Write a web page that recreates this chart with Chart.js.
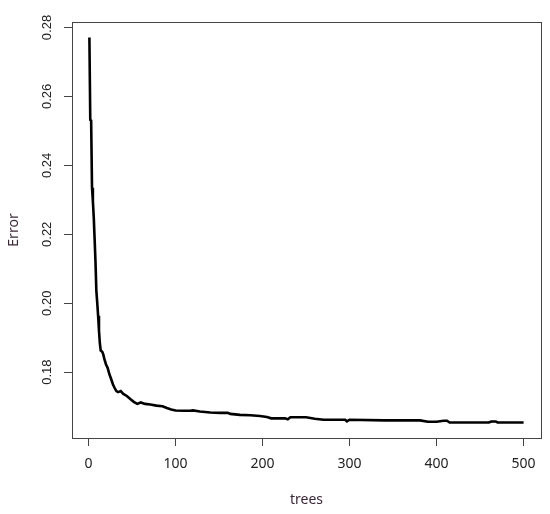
<!DOCTYPE html>
<html>
<head>
<meta charset="utf-8">
<script src="https://cdn.jsdelivr.net/npm/chart.js@4"></script>
<style>
  html, body { margin: 0; padding: 0; background: #ffffff; }
  #wrap { width: 550px; height: 514px; }
</style>
</head>
<body>
<div id="wrap"><canvas id="error-chart"></canvas></div>
<script>
// number of trees and OOB error
const trees = [1, 2, 3, 4, 5, 6, 7, 8, 9, 10, 11, 12, 13, 14, 15, 16, 17, 18, 20, 22, 24, 26, 28, 30, 32, 34,
    37, 40, 44, 48, 52, 56, 60, 65, 71, 78, 85, 90, 95, 100, 110, 117, 120, 128, 140, 151, 160, 163,
    174, 186, 197, 205, 210, 226, 229, 232, 250, 260, 270, 295, 297, 300, 340, 381, 390, 400, 408,
    412, 415, 460, 463, 468, 470, 500];
const errors = [0.2771, 0.2532, 0.2530, 0.2335, 0.2296, 0.2250, 0.2186, 0.2120, 0.2036, 0.2002, 0.1964,
    0.1921, 0.1884, 0.1863, 0.1861, 0.1858, 0.1851, 0.1840, 0.1823, 0.1812, 0.1794, 0.1780, 0.1765,
    0.1754, 0.1745, 0.1742, 0.1745, 0.1737, 0.1731, 0.1722, 0.1714, 0.1708, 0.1712, 0.1708, 0.1706,
    0.1703, 0.1701, 0.1696, 0.1692, 0.1689, 0.1688, 0.1688, 0.1689, 0.1686, 0.1683, 0.1682, 0.1682,
    0.1679, 0.1676, 0.1675, 0.1673, 0.1670, 0.1666, 0.1666, 0.1663, 0.1669, 0.1669, 0.1665, 0.1662,
    0.1662, 0.1657, 0.1662, 0.1660, 0.1660, 0.1656, 0.1656, 0.1659, 0.1659, 0.1654, 0.1654, 0.1657,
    0.1657, 0.1654, 0.1654];
const xTicks = [0, 100, 200, 300, 400, 500];
const yTicks = [0.18, 0.20, 0.22, 0.24, 0.26, 0.28];

const axisColor = '#444444';
const labelColor = '#222222';
const titleColor = '#3a2838';

// R-style box round the plotting region
const boxPlugin = {
    id: 'box',
    afterDraw(chart) {
        const a = chart.chartArea;
        const ctx = chart.ctx;
        ctx.save();
        ctx.strokeStyle = axisColor;
        ctx.lineWidth = 1;
        ctx.strokeRect(Math.round(a.left) + 0.5, Math.round(a.top) + 0.5,
            Math.round(a.right - a.left), Math.round(a.bottom - a.top));
        ctx.restore();
    }
};

const ctx = document.getElementById('error-chart').getContext('2d');
new Chart(ctx, {
    type: 'scatter',
    data: {
        datasets: [{
            data: trees.map((t, i) => ({ x: t, y: errors[i] })),
            showLine: true,
            borderColor: '#000000',
            borderWidth: 2.6,
            pointRadius: 0,
            tension: 0
        }]
    },
    options: {
        responsive: true,
        maintainAspectRatio: false,
        animation: false,
        layout: { padding: { top: 22, right: 9, left: 0, bottom: 0 } },
        plugins: {
            legend: { display: false },
            tooltip: { enabled: false }
        },
        scales: {
            x: {
                type: 'linear',
                min: -19,
                max: 520,
                afterBuildTicks: function(scale) {
                    scale.ticks = xTicks.map(v => ({ value: v }));
                },
                afterFit: function(scale) {
                    scale.height = 76;
                },
                border: { display: false },
                grid: {
                    drawOnChartArea: false,
                    drawTicks: true,
                    tickLength: 8,
                    color: axisColor
                },
                ticks: {
                    padding: 10,
                    color: labelColor,
                    maxRotation: 0,
                    font: { family: 'Noto Sans', size: 14 },
                    callback: function(value) { return String(value); }
                },
                title: {
                    display: true,
                    text: 'trees',
                    color: titleColor,
                    padding: { top: 6, bottom: 6 },
                    font: { family: 'Noto Sans', size: 14 }
                }
            },
            y: {
                type: 'linear',
                min: 0.1609,
                max: 0.2816,
                afterBuildTicks: function(scale) {
                    scale.ticks = yTicks.map(v => ({ value: v }));
                },
                afterFit: function(scale) {
                    scale.width = 72;
                },
                border: { display: false },
                grid: {
                    drawOnChartArea: false,
                    drawTicks: true,
                    tickLength: 8,
                    color: axisColor
                },
                ticks: {
                    padding: 4,
                    color: labelColor,
                    minRotation: 90,
                    maxRotation: 90,
                    crossAlign: 'center',
                    font: { family: 'Liberation Sans', size: 13 },
                    callback: function(value) { return value.toFixed(2); }
                },
                title: {
                    display: true,
                    text: 'Error',
                    color: titleColor,
                    padding: { top: 6, bottom: 6 },
                    font: { family: 'Noto Sans', size: 14 }
                }
            }
        }
    },
    plugins: [boxPlugin]
});
</script>
</body>
</html>
